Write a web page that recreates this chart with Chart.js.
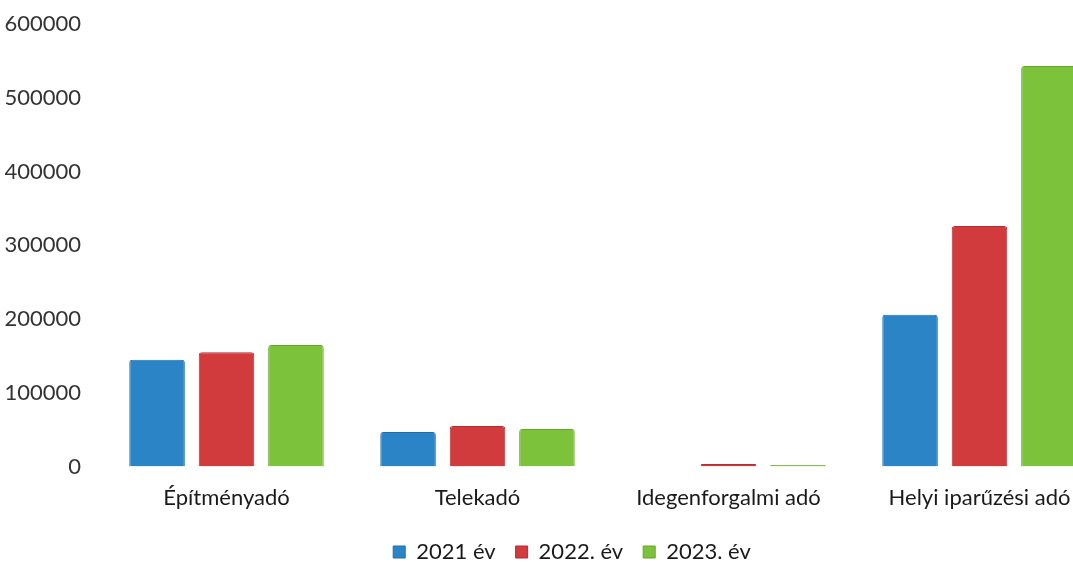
<!DOCTYPE html>
<html>
<head>
<meta charset="utf-8">
<script src="https://cdn.jsdelivr.net/npm/chart.js@4"></script>
<style>
  html, body { margin: 0; padding: 0; background: #fff; overflow: hidden; }
  .chart-wrap { width: 1110px; height: 562px; position: relative; }
</style>
</head>
<body>
<div class="chart-wrap"><canvas id="taxChart"></canvas></div>
<script>
const categories = ['Építményadó', 'Telekadó', 'Idegenforgalmi adó', 'Helyi iparűzési adó'];
const seriesNames = ['2021 év', '2022. év', '2023. év'];
const values2021 = [145000, 47000, 0, 206000];
const values2022 = [155000, 55000, 3500, 326000];
const values2023 = [165000, 51000, 2000, 543000];
const yTicks = [0, 100000, 200000, 300000, 400000, 500000, 600000];

document.addEventListener('DOMContentLoaded', function () {
    const font = { family: 'Lato, "Open Sans", sans-serif', size: 22 };
    const legendFont = { family: 'Lato, "Open Sans", sans-serif', size: 22, lineHeight: 1 };
    const ctx = document.getElementById('taxChart').getContext('2d');

    // the legend in the original sits a bit right of the centre
    const legendShift = {
        id: 'legendShift',
        afterLayout: function (chart) {
            chart.legend.left += 17;
            chart.legend.right += 17;
        }
    };

    new Chart(ctx, {
        type: 'bar',
        data: {
            labels: categories,
            datasets: [
                {
                    label: seriesNames[0],
                    data: values2021,
                    backgroundColor: '#2a84c6',
                    borderColor: '#1f6ea8',
                    borderWidth: 1,
                    borderRadius: 3
                },
                {
                    label: seriesNames[1],
                    data: values2022,
                    backgroundColor: '#d23b3e',
                    borderColor: '#b22c30',
                    borderWidth: 1,
                    borderRadius: 3
                },
                {
                    label: seriesNames[2],
                    data: values2023,
                    backgroundColor: '#7dc23b',
                    borderColor: '#64a52b',
                    borderWidth: 1,
                    borderRadius: 3
                }
            ]
        },
        options: {
            responsive: true,
            maintainAspectRatio: false,
            animation: false,
            categoryPercentage: 0.83,
            barPercentage: 0.8,
            layout: {
                padding: { left: 5, right: 5, top: 24, bottom: -11 }
            },
            scales: {
                x: {
                    grid: { display: false, drawTicks: false },
                    border: { display: false },
                    ticks: { color: '#1a1a1a', font: font, padding: 18, maxRotation: 0 },
                    afterFit: function (axis) {
                        axis.height -= 8;
                    }
                },
                y: {
                    min: 0,
                    max: yTicks[yTicks.length - 1],
                    afterBuildTicks: function (axis) {
                        axis.ticks = yTicks.map(v => ({ value: v }));
                    },
                    afterFit: function (axis) {
                        axis.width = 96;
                        axis.paddingTop = 0;
                    },
                    grid: { display: false, drawTicks: false },
                    border: { display: false },
                    ticks: {
                        color: '#333',
                        font: font,
                        padding: 20,
                        callback: function (value) { return String(value); }
                    }
                }
            },
            plugins: {
                legend: {
                    position: 'bottom',
                    labels: {
                        color: '#1a1a1a',
                        font: legendFont,
                        boxWidth: 12,
                        boxHeight: 12,
                        padding: 20
                    }
                },
                tooltip: { enabled: false }
            }
        },
        plugins: [legendShift]
    });
});
</script>
</body>
</html>
